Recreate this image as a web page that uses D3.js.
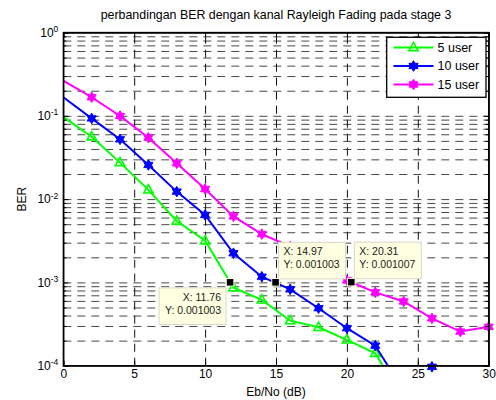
<!DOCTYPE html>
<html><head><meta charset="utf-8">
<script src="https://cdn.jsdelivr.net/npm/d3@7"></script>
<style>
body{margin:0;background:#fff;}
svg{display:block;font-family:"Liberation Sans",Arial,sans-serif;}
</style></head>
<body><svg id="chart" width="496" height="400"></svg>
<script>
const ebno = [0,2,4,6,8,10,12,14,16,18,20,22,24,26,28,30];
const user5  = [0.097,0.056,0.0274,0.0129,0.00546,0.00316,0.000865,0.000616,0.000347,0.000289,0.000204,0.000141,0.000039,null,null,null];
const user10 = [0.167,0.093,0.0522,0.0257,0.0123,0.00645,0.00224,0.00117,0.000826,0.00049,0.000282,0.000174,0.00005,0.000097,null,null];
const user15 = [0.264,0.167,0.0995,0.0546,0.0269,0.0132,0.0062,0.0038,0.0027,0.0017,0.00106,0.00076,0.00059,0.00037,0.000257,0.000293];
const seriesNames = ["5 user","10 user","15 user"];
const xTicks = [0,5,10,15,20,25,30];
const yTicks = [1e-4,1e-3,1e-2,1e-1,1];
const tipSeries = [0,1,2];
const tipX = [11.76,14.97,20.31];
const tipY = [0.001003,0.001003,0.001007];
const titleText = "perbandingan BER dengan kanal Rayleigh Fading pada stage 3";
const xLabel = "Eb/No (dB)";
const yLabel = "BER";

const colors = ["#00ff00","#0000ff","#ff00ff"];
const markers = ["tri","hex","hex"];
const allSeries = [user5,user10,user15];

const L=63.3,R=488.7,T=32.5,B=365.7;
const svg = d3.select("#chart");
const x = d3.scaleLinear().domain([0,30]).range([L,R]);
const y = d3.scaleLog().domain([1e-4,1]).range([B,T]);

const minors=[];
for(let e=-4;e<0;e++) for(let m=2;m<=9;m++) minors.push(m*Math.pow(10,e));

// grid
const gh = svg.append("g").attr("transform",`translate(${L},0)`)
  .call(d3.axisLeft(y).tickValues(minors.concat([1e-3,1e-2,1e-1])).tickSize(-(R-L)).tickFormat(""));
gh.select(".domain").remove();
gh.selectAll("line").attr("stroke","#484848").attr("stroke-dasharray","8,6");
const gv = svg.append("g").attr("transform",`translate(0,${B})`)
  .call(d3.axisBottom(x).tickValues([5,10,15,20,25]).tickSize(-(B-T)).tickFormat(""));
gv.select(".domain").remove();
gv.selectAll("line").attr("stroke","#111").attr("stroke-dasharray","8,6");

// clip
svg.append("defs").append("clipPath").attr("id","clip")
  .append("rect").attr("x",L).attr("y",T).attr("width",R-L).attr("height",B-T);

function hexPath(r){
  const ri=r/Math.sqrt(3); let p="";
  for(let i=0;i<12;i++){
    const a=-Math.PI/2+i*Math.PI/6; const rr=i%2===0?r:ri;
    p+=(i?"L":"M")+(rr*Math.cos(a)).toFixed(2)+","+(rr*Math.sin(a)).toFixed(2);
  }
  return p+"Z";
}
function triPath(s){
  return `M0,${-s}L${s*0.9},${s*0.6}L${-s*0.9},${s*0.6}Z`;
}
function drawMarker(g,type,color){
  if(type==="tri") g.append("path").attr("d",triPath(5.2)).attr("fill","none").attr("stroke",color).attr("stroke-width",1.6);
  else g.append("path").attr("d",hexPath(5.3)).attr("fill",color).attr("stroke",color).attr("stroke-width",1);
}

const line = d3.line().defined(d=>d.v!=null).x(d=>x(d.x)).y(d=>y(d.v));
allSeries.forEach((s,i)=>{
  const data = ebno.map((xx,j)=>({x:xx,v:s[j]}));
  svg.append("path").datum(data).attr("d",line).attr("fill","none")
    .attr("stroke",colors[i]).attr("stroke-width",2).attr("clip-path","url(#clip)");
  data.filter(d=>d.v!=null && d.x>0 && y(d.v)<=B+3).forEach(d=>{
    const g=svg.append("g").attr("transform",`translate(${x(d.x)},${y(d.v)})`);
    drawMarker(g,markers[i],colors[i]);
  });
});

// axes box and ticks
const fs=12;
const ax = svg.append("g").attr("transform",`translate(0,${B})`)
  .call(d3.axisBottom(x).tickValues(xTicks).tickSize(-5).tickPadding(4));
ax.selectAll("text").attr("font-size",fs).attr("fill","#000").attr("font-family","Liberation Sans, Arial").attr("dy","0.71em");
svg.append("g").attr("transform",`translate(0,${T})`)
  .call(d3.axisTop(x).tickValues(xTicks).tickSize(-5).tickFormat(""));
const ay = svg.append("g").attr("transform",`translate(${L},0)`)
  .call(d3.axisLeft(y).tickValues(yTicks).tickSize(-5).tickPadding(5).tickFormat(""));
ay.selectAll(".tick text").each(function(d){
  const t=d3.select(this).attr("font-size",fs).attr("fill","#000").attr("font-family","Liberation Sans, Arial");
  t.append("tspan").text("10");
  t.append("tspan").attr("dy","-0.55em").attr("font-size",8.5).text(Math.round(Math.log10(d)));
});
svg.append("g").attr("transform",`translate(${L},0)`)
  .call(d3.axisLeft(y).tickValues(minors).tickSize(-3).tickFormat("")).select(".domain").remove();
svg.append("g").attr("transform",`translate(${R},0)`)
  .call(d3.axisRight(y).tickValues(yTicks).tickSize(-5).tickFormat(""));
svg.append("g").attr("transform",`translate(${R},0)`)
  .call(d3.axisRight(y).tickValues(minors).tickSize(-3).tickFormat("")).select(".domain").remove();
svg.selectAll(".domain").attr("stroke","#000").attr("stroke-width",1.3);
svg.selectAll(".tick line").filter(function(){return !this.getAttribute("stroke-dasharray");}).attr("stroke","#000");
svg.append("rect").attr("x",L).attr("y",T).attr("width",R-L).attr("height",B-T)
  .attr("fill","none").attr("stroke","#000").attr("stroke-width",1.3);

// data tips
tipSeries.forEach((si,k)=>{
  const px=x(tipX[k]), py=y(tipY[k]);
  const w=67,h=36.6;
  const below = k===0;
  const bx = below? px-4-w : px+3;
  const by = below? py+5.6 : py-3.4-h;
  svg.append("rect").attr("x",bx).attr("y",by).attr("width",w).attr("height",h)
    .attr("fill","#ffffe1").attr("stroke","#d8d8c8").attr("stroke-width",1);
  const lines=["X: "+tipX[k],"Y: "+tipY[k]];
  lines.forEach((s,j)=>{
    svg.append("text").attr("x",below?bx+w-5:bx+5).attr("y",by+9+j*13.3).attr("dy","0.35em")
      .attr("text-anchor",below?"end":"start").attr("font-size",10.5).attr("fill","#222").text(s);
  });
  svg.append("rect").attr("x",px-3.8).attr("y",py-3.8).attr("width",7.6).attr("height",7.6)
    .attr("fill","#000").attr("stroke","#ffffe1").attr("stroke-width",1);
});

// legend
const lg = svg.append("g");
lg.append("rect").attr("x",386.7).attr("y",37.3).attr("width",99.3).attr("height",60)
  .attr("fill","#fff").attr("stroke","#000").attr("stroke-width",1.3);
seriesNames.forEach((n,i)=>{
  const yy=47.5+i*18.5;
  lg.append("line").attr("x1",393.5).attr("x2",433.5).attr("y1",yy).attr("y2",yy)
    .attr("stroke",colors[i]).attr("stroke-width",2);
  const g=lg.append("g").attr("transform",`translate(413.5,${yy})`);
  drawMarker(g,markers[i],colors[i]);
  lg.append("text").attr("x",437.5).attr("y",yy).attr("dy","0.35em").attr("font-size",12.5).attr("fill","#000").text(n);
});

// titles
svg.append("text").attr("x",(L+R)/2).attr("y",19).attr("text-anchor","middle").attr("font-size",12.4).attr("fill","#000").text(titleText);
svg.append("text").attr("x",(L+R)/2).attr("y",396).attr("text-anchor","middle").attr("font-size",12).attr("fill","#000").text(xLabel);
svg.append("text").attr("transform",`translate(26,${(T+B)/2}) rotate(-90)`).attr("text-anchor","middle").attr("font-size",12).attr("fill","#000").text(yLabel);
</script></body></html>
